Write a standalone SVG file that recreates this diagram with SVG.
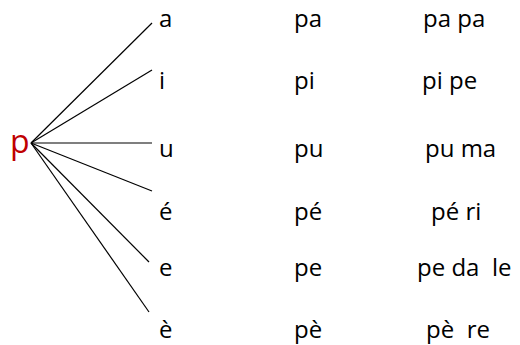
<svg xmlns="http://www.w3.org/2000/svg" width="520" height="345" viewBox="0 0 520 345">
<style>
text{font-family:"Open Sans","Noto Sans",sans-serif;font-size:24px;fill:#000;white-space:pre}
.root{font-size:32px;fill:#C00000}
.edge{stroke:#000;stroke-width:1.2;fill:none}
</style>
<rect width="520" height="345" fill="#fff"/>
<g id="connectors">
<line class="edge" x1="31" y1="143" x2="152" y2="23"/>
<line class="edge" x1="31" y1="143" x2="152" y2="70"/>
<line class="edge" x1="31" y1="143" x2="152" y2="143"/>
<line class="edge" x1="31" y1="143" x2="152" y2="191"/>
<line class="edge" x1="31" y1="143" x2="149" y2="262"/>
<line class="edge" x1="31" y1="143" x2="149" y2="312"/>
</g>
<g id="node-p"><text class="root" x="10" y="153">p</text></g>
<g id="node-a"><text x="159" y="27">a</text></g>
<g id="node-i"><text x="159" y="89">i</text></g>
<g id="node-u"><text x="159" y="157">u</text></g>
<g id="node-e-acute"><text x="159" y="220">é</text></g>
<g id="node-e"><text x="159" y="276">e</text></g>
<g id="node-e-grave"><text x="159" y="338">è</text></g>
<g id="syl-pa"><text x="294" y="27">pa</text></g>
<g id="syl-pi"><text x="294" y="89">pi</text></g>
<g id="syl-pu"><text x="294" y="157">pu</text></g>
<g id="syl-pe-acute"><text x="294" y="220">pé</text></g>
<g id="syl-pe"><text x="294" y="276">pe</text></g>
<g id="syl-pe-grave"><text x="294" y="338">pè</text></g>
<g id="word-papa"><text x="423" y="27">pa pa</text></g>
<g id="word-pipe"><text x="422" y="89">pi pe</text></g>
<g id="word-puma"><text x="425" y="157">pu ma</text></g>
<g id="word-peri"><text x="431" y="220">pé ri</text></g>
<g id="word-pedale"><text x="417" y="276">pe da  le</text></g>
<g id="word-pere"><text x="426" y="338">pè  re</text></g>
</svg>
